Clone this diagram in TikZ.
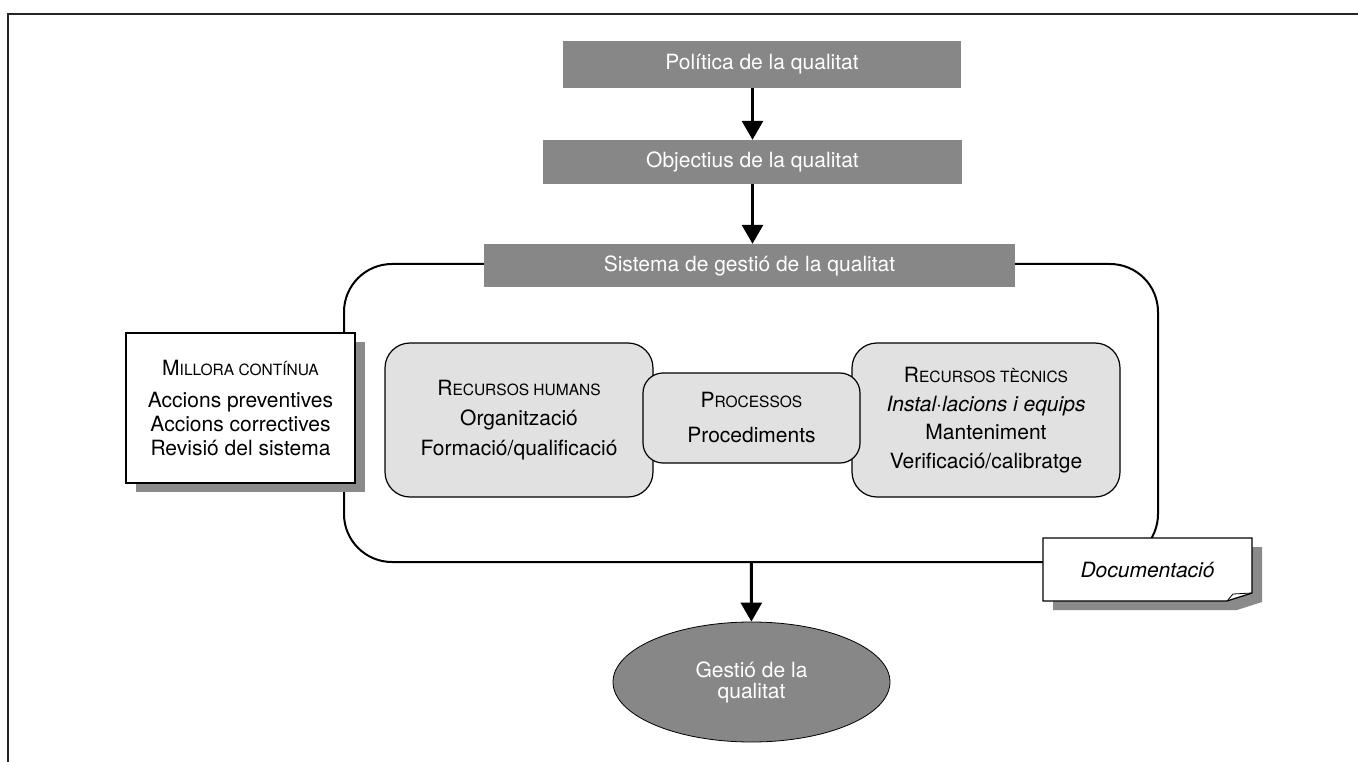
\documentclass[tikz,border=0pt]{standalone}
\usepackage{fontspec}
\setmainfont{TeX Gyre Heros}
\usepackage{tikz}
\usetikzlibrary{arrows.meta}
\usetikzlibrary{shapes.geometric,shadows,calc}
\definecolor{gray1}{RGB}{135,135,135}
\definecolor{gray2}{RGB}{225,225,225}
\definecolor{gray3}{RGB}{138,138,138}
\newcommand{\fsc}[2]{#1{\fontsize{15.5}{15.5}\selectfont #2}}
\tikzstyle{title} = [rectangle,fill=gray1,text=white,inner sep=0pt,font=\fontsize{21}{25}\selectfont]
\tikzstyle{resource} = [rectangle,rounded corners=25pt,fill=gray2,draw=black,line width=1.2pt,align=center,inner sep=0pt]
\tikzstyle{note} = [rectangle,fill=white,draw=black,line width=1.4pt,align=center,inner sep=0pt,font=\fontsize{21}{24}\selectfont,drop shadow={shadow xshift=10pt,shadow yshift=-9pt,fill=gray3,opacity=1}]
\tikzstyle{arrow_q} = [-{Triangle[width=21pt,length=19pt]}, draw=black, line width=3pt]

\begin{document}
\begin{tikzpicture}[x=1pt,y=-1pt]
    \useasboundingbox (0,0) rectangle (1358,762);
    \draw[line width=2pt,black!85] (8,762) -- (8,14) -- (1358,14);

      \node[draw,line width=2pt,rounded corners=48pt,minimum width=814pt,minimum height=298pt] (frame) at (751,413) {};

      \node[title,minimum width=398pt,minimum height=47pt] (pol) at (762,64.5) {Política de la qualitat};
      \node[title,minimum width=419pt,minimum height=44pt] (obj) at (752.5,162) {Objectius de la qualitat};
      \node[title,minimum width=531pt,minimum height=43pt] (sgq) at (749.5,265.5) {Sistema de gestió de la qualitat};

      \foreach \a/\b in {pol/obj,obj/sgq} {
        \draw[arrow_q] (\a.south -| obj) -- (\b.north -| obj);
      }

      \node[note,minimum width=229pt,minimum height=150pt] (millora) at (240.5,408)
        {\fsc{M}{ILLORA CONTÍNUA}\\[8pt]Accions preventives\\Accions correctives\\Revisió del sistema};

      \node[resource,minimum width=268pt,minimum height=154pt,font=\fontsize{21}{30}\selectfont] (humans) at (519,420)
        {\fsc{R}{ECURSOS HUMANS}\\Organització\\Formació/qualificació};
      \node[resource,minimum width=268pt,minimum height=154pt,font=\fontsize{21}{28.5}\selectfont] (tecnics) at (986,420)
        {\fsc{R}{ECURSOS TÈCNICS}\\\textit{Instal·lacions i equips}\\Manteniment\\Verificació/calibratge};
      \node[resource,rounded corners=20pt,minimum width=217pt,minimum height=90pt,font=\fontsize{21}{35}\selectfont] (proc) at (751.5,418)
        {\fsc{P}{ROCESSOS}\\Procediments};

      \coordinate (docnw) at (1043,538);
      \coordinate (docse) at (1252,601);
      \fill[gray3] (1053,547) -- (1262,547) -- (1262,602) -- (1237,610) -- (1053,610) -- cycle;
      \filldraw[fill=white,draw=black,line width=1.2pt] (docnw) -- (docnw -| docse) -- (1252,593) -- (1227,601) -- (docse -| docnw) -- cycle;
      \draw[line width=0.8pt] (1227,601) -- (1233,594) -- (1252,593);
      \node[font=\fontsize{21}{25}\selectfont\itshape] (doc) at ($(docnw)!0.5!(docse)$) {Documentació};

      \node[ellipse,fill=gray1,draw=black,line width=0.8pt,minimum width=277pt,minimum height=120pt,inner sep=0pt,
            text=white,align=center,font=\fontsize{21}{21}\selectfont] (gestio) at (751.5,682) {Gestió de la\\qualitat};

      \draw[arrow_q] (frame) -- (gestio);
    \end{tikzpicture}
\end{document}
